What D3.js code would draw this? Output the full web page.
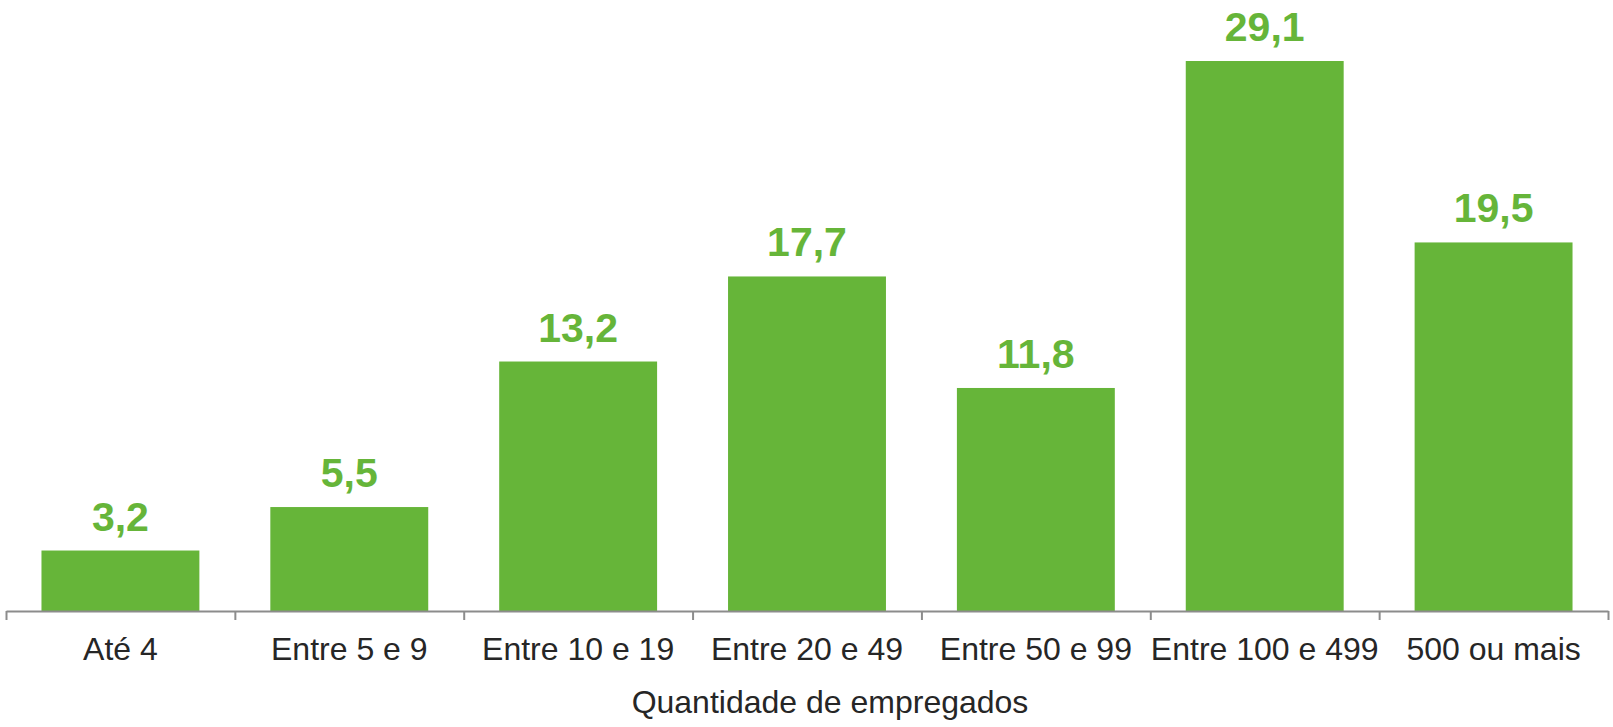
<!DOCTYPE html>
<html>
<head>
<meta charset="utf-8">
<script src="https://cdn.jsdelivr.net/npm/d3@7"></script>
<style>
  html, body { margin: 0; padding: 0; background: #fff; }
  svg { display: block; font-family: "Liberation Sans", Arial, sans-serif; }
</style>
</head>
<body>
<svg id="chart" width="1613" height="727"></svg>
<script>
const categories = ["Até 4", "Entre 5 e 9", "Entre 10 e 19", "Entre 20 e 49", "Entre 50 e 99", "Entre 100 e 499", "500 ou mais"];
const values = [3.2, 5.5, 13.2, 17.7, 11.8, 29.1, 19.5];
const valueLabels = ["3,2", "5,5", "13,2", "17,7", "11,8", "29,1", "19,5"];
const axisTitle = "Quantidade de empregados";

const svg = d3.select("#chart");
const left = 6, right = 1608, baseline = 611;

const x = d3.scaleBand().domain(categories).range([left, right]).paddingInner(0.31).paddingOuter(0.155);
const y = d3.scaleLinear().domain([0, 29.1]).range([baseline, 61]);

const green = "#66b539";

svg.selectAll("rect.bar").data(values).enter().append("rect")
  .attr("class", "bar")
  .attr("x", (d, i) => x(categories[i]))
  .attr("width", x.bandwidth())
  .attr("y", d => y(d))
  .attr("height", d => y(0) - y(d))
  .attr("fill", green);

svg.selectAll("text.val").data(values).enter().append("text")
  .attr("class", "val")
  .attr("x", (d, i) => x(categories[i]) + x.bandwidth() / 2)
  .attr("y", d => y(d) - 20)
  .attr("text-anchor", "middle")
  .attr("font-size", 41)
  .attr("font-weight", "bold")
  .attr("fill", green)
  .text((d, i) => valueLabels[i]);

// axis with ticks at band boundaries
const xb = d3.scaleLinear().domain([0, categories.length]).range([left, right]);
const axisG = svg.append("g").attr("transform", `translate(0,${baseline})`);
axisG.call(d3.axisBottom(xb).tickValues(d3.range(categories.length + 1)).tickSize(9).tickSizeOuter(0).tickFormat(""));
axisG.select(".domain").attr("stroke", "#8c8c8c").attr("stroke-width", 2);
axisG.selectAll(".tick line").attr("stroke", "#8c8c8c").attr("stroke-width", 2);

svg.selectAll("text.cat").data(categories).enter().append("text")
  .attr("class", "cat")
  .attr("x", d => x(d) + x.bandwidth() / 2)
  .attr("y", 660)
  .attr("text-anchor", "middle")
  .attr("font-size", 32)
  .attr("fill", "#262626")
  .text(d => d);

svg.append("text")
  .attr("x", (left + right) / 2 + 23)
  .attr("y", 713)
  .attr("text-anchor", "middle")
  .attr("font-size", 32)
  .attr("fill", "#262626")
  .text(axisTitle);
</script>
</body>
</html>
